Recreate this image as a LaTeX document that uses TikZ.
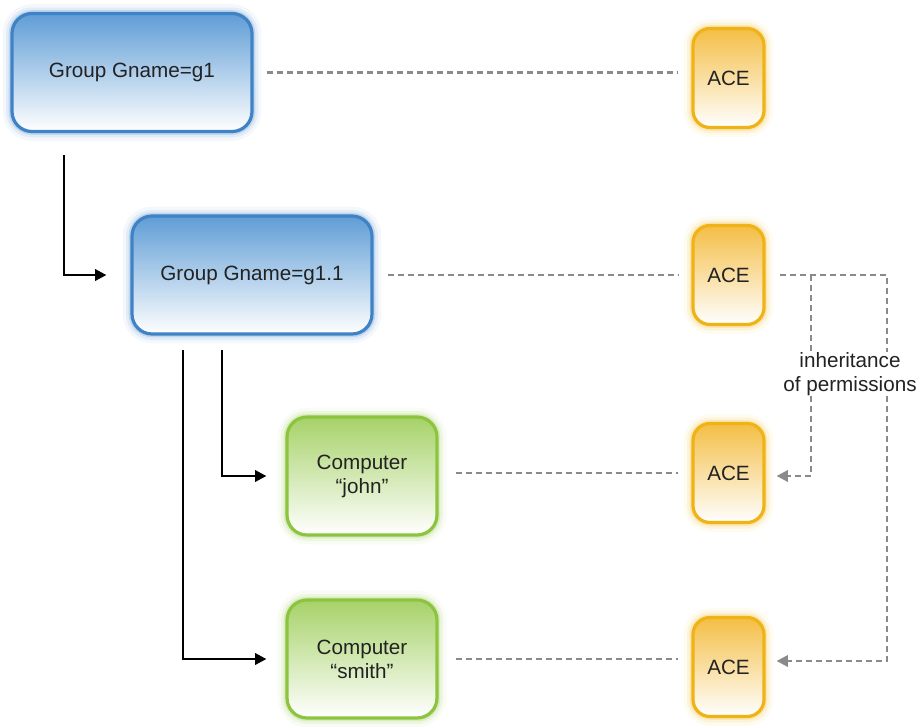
\documentclass[tikz,border=0pt]{standalone}
\usepackage{fontspec}
\setmainfont{Liberation Sans}
\usetikzlibrary{arrows.meta,calc}
\definecolor{blueEdge}{HTML}{3F82C6}
\definecolor{blueTop}{HTML}{5F9DD6}
\definecolor{greenEdge}{HTML}{8DC43F}
\definecolor{greenTop}{HTML}{A6D268}
\definecolor{aceEdge}{HTML}{EFB315}
\definecolor{aceTop}{HTML}{F4BE45}
\definecolor{dashgray}{HTML}{8A8A8A}
\definecolor{txt}{HTML}{222222}
% one drawing unit is 0.75pt
\tikzset{
  glow/.style={
    preaction={draw=#1, line width=14pt, opacity=0.06},
    preaction={draw=#1, line width=9pt, opacity=0.10},
    preaction={draw=#1, line width=5pt, opacity=0.20}},
  box/.style={rounded corners=15pt, line width=2.4pt, shading=axis,
    text=txt, align=center, font=\fontsize{15.5}{18}\selectfont, inner sep=0pt},
  groupbox/.style={box, glow=blueEdge, draw=blueEdge, top color=blueTop,
    middle color=blueTop!50!white, bottom color=white,
    minimum width=180pt, minimum height=88.5pt},
  compbox/.style={box, glow=greenEdge, draw=greenEdge, top color=greenTop,
    middle color=greenTop!50!white, bottom color=white,
    minimum width=112.5pt, minimum height=88.5pt},
  acebox/.style={box, glow=aceEdge, draw=aceEdge, rounded corners=12.75pt,
    top color=aceTop, middle color=aceTop!40!white, bottom color=white,
    minimum width=53.25pt, minimum height=74.25pt},
  tree/.style={line width=1.9pt, black, -{Triangle[length=8.5pt,width=8.5pt]}},
  acl/.style={line width=1.8pt, dashgray, dash pattern=on 4.5pt off 3pt},
  inherit/.style={acl, -{Triangle[length=8.5pt,width=8.5pt]}},
  note/.style={text=txt, align=center, font=\fontsize{15.5}{18}\selectfont}
}
\begin{document}
\begin{tikzpicture}[x=0.75pt, y=-0.75pt]
\useasboundingbox (0,0) rectangle (922,728);

% objects
\node[groupbox] (g1)    at (132,72.5) {Group Gname=g1};
\node[groupbox] (g11)   at (252,275)  {Group Gname=g1.1};
\node[compbox]  (john)  at (362,476)  {Computer\\“john”};
\node[compbox]  (smith) at (362,659)  {Computer\\“smith”};

% access control entries
\node[acebox] (ace1) at (728.5,78)  {ACE};
\node[acebox] (ace2) at (728.5,275) {ACE};
\node[acebox] (ace3) at (728.5,473) {ACE};
\node[acebox] (ace4) at (728.5,667) {ACE};

\node[note] (perm) at (850,374) {inheritance\\of permissions};

% group hierarchy
\coordinate (t1) at (64,155);
\coordinate (t2) at (222,350);
\coordinate (t3) at (183,350);
\draw[tree, shorten >=18pt] (t1) |- (g11);
\draw[tree, shorten >=14.25pt] (t2) |- (john);
\draw[tree, shorten >=14.25pt] (t3) |- (smith);

% object to ACE links
\draw[acl, shorten <=9.75pt, shorten >=9.75pt] (g1.east) -- (g1.east -| ace1.west);
\draw[acl, shorten <=10.5pt, shorten >=9.75pt] (g11.east) -- (g11.east -| ace2.west);
\draw[acl, shorten <=12.75pt, shorten >=9.75pt] (ace3.west -| john.east) -- (ace3.west);
\draw[acl, shorten <=12.75pt, shorten >=9.75pt] (smith.east) -- (smith.east -| ace4.west);

% inheritance of permissions
\coordinate (ri) at (887,275);
\coordinate (li) at (811,275);
\draw[acl, shorten <=10.5pt] (ace2.east) -- (ri) -- ([yshift=-3pt]ri |- perm.north);
\draw[acl] (li) -- ([yshift=-3pt]li |- perm.north);
\draw[inherit, shorten >=8.25pt] ([yshift=3pt]li |- perm.south) |- ([yshift=-2.25pt]ace3.east);
\draw[inherit, shorten >=8.25pt] ([yshift=3pt]ri |- perm.south) |- ([yshift=4.5pt]ace4.east);
\end{tikzpicture}
\end{document}
